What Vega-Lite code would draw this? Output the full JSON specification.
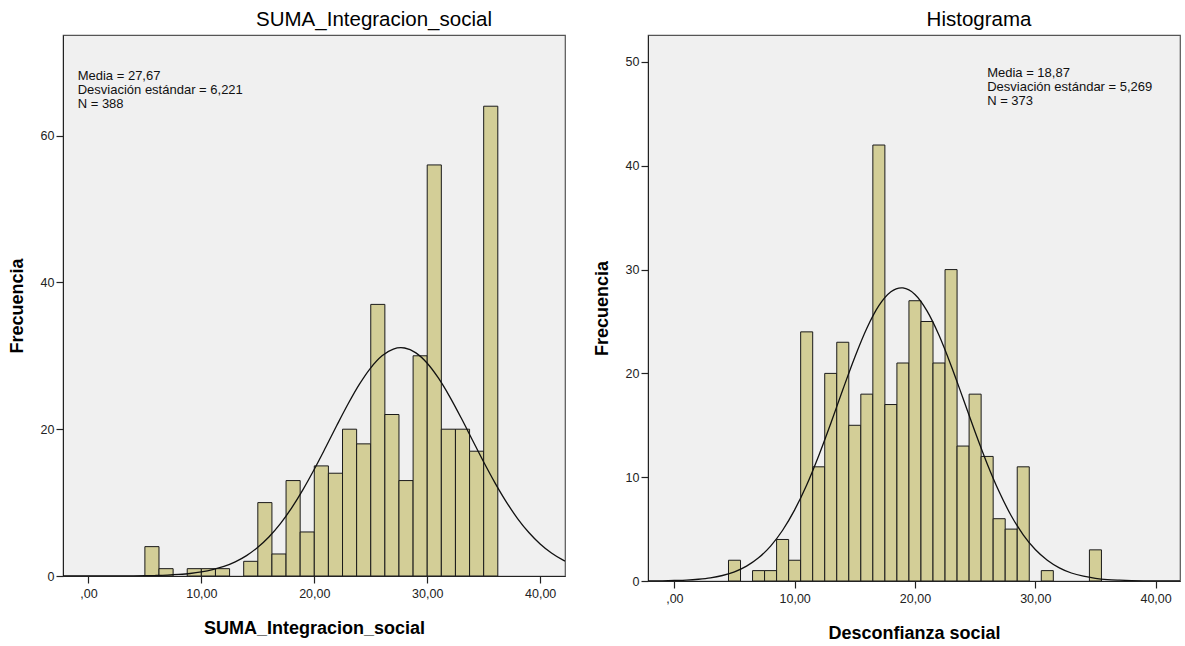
{
  "$schema": "https://vega.github.io/schema/vega-lite/v6.json",
  "background": "white",
  "padding": {"left": 7, "top": 8, "right": 0, "bottom": 0},
  "spacing": 26,
  "config": {
    "view": {"fill": "#F0F0F0", "stroke": "#555555", "strokeWidth": 1.2},
    "font": "Liberation Sans",
    "axis": {
      "grid": false,
      "domain": true,
      "domainColor": "#222222",
      "domainWidth": 1,
      "tickColor": "#222222",
      "tickSize": 7,
      "tickWidth": 1.2,
      "labelColor": "#222222",
      "labelFont": "Liberation Sans",
      "labelFontSize": 12.5,
      "labelPadding": 2,
      "titleFont": "Liberation Sans",
      "titleFontWeight": "bold",
      "titleFontSize": 18,
      "titleColor": "#000000"
    },
    "axisX": {"titlePadding": 20, "labelPadding": 4},
    "axisY": {"titlePadding": 14},
    "title": {"fontSize": 20.5, "fontWeight": "normal", "font": "Liberation Sans", "color": "#000000", "offset": 5}
  },
  "datasets": {
    "leftBars": [
      {"start": 5.0, "end": 6.25, "count": 4},
      {"start": 6.25, "end": 7.5, "count": 1},
      {"start": 8.75, "end": 10.0, "count": 1},
      {"start": 10.0, "end": 11.25, "count": 1},
      {"start": 11.25, "end": 12.5, "count": 1},
      {"start": 13.75, "end": 15.0, "count": 2},
      {"start": 15.0, "end": 16.25, "count": 10},
      {"start": 16.25, "end": 17.5, "count": 3},
      {"start": 17.5, "end": 18.75, "count": 13},
      {"start": 18.75, "end": 20.0, "count": 6},
      {"start": 20.0, "end": 21.25, "count": 15},
      {"start": 21.25, "end": 22.5, "count": 14},
      {"start": 22.5, "end": 23.75, "count": 20},
      {"start": 23.75, "end": 25.0, "count": 18},
      {"start": 25.0, "end": 26.25, "count": 37},
      {"start": 26.25, "end": 27.5, "count": 22},
      {"start": 27.5, "end": 28.75, "count": 13},
      {"start": 28.75, "end": 30.0, "count": 30},
      {"start": 30.0, "end": 31.25, "count": 56},
      {"start": 31.25, "end": 32.5, "count": 20},
      {"start": 32.5, "end": 33.75, "count": 20},
      {"start": 33.75, "end": 35.0, "count": 17},
      {"start": 35.0, "end": 36.25, "count": 64}
    ],
    "leftCurve": [
      {"x": -2.25, "y": 0}, {"x": -1, "y": 0}, {"x": 0, "y": 0}, {"x": 1, "y": 0.002},
      {"x": 2, "y": 0.006}, {"x": 3, "y": 0.012}, {"x": 4, "y": 0.022}, {"x": 5, "y": 0.04},
      {"x": 6, "y": 0.07}, {"x": 7, "y": 0.12}, {"x": 8, "y": 0.21}, {"x": 9, "y": 0.34},
      {"x": 10, "y": 0.55}, {"x": 11, "y": 0.86}, {"x": 12, "y": 1.30}, {"x": 13, "y": 1.93},
      {"x": 14, "y": 2.78}, {"x": 15, "y": 3.91}, {"x": 16, "y": 5.35}, {"x": 17, "y": 7.14},
      {"x": 18, "y": 9.29}, {"x": 19, "y": 11.77}, {"x": 20, "y": 14.54}, {"x": 21, "y": 17.50},
      {"x": 22, "y": 20.53}, {"x": 23, "y": 23.46}, {"x": 24, "y": 26.13}, {"x": 25, "y": 28.36},
      {"x": 26, "y": 30.00}, {"x": 27, "y": 30.92}, {"x": 27.67, "y": 31.10}, {"x": 28, "y": 31.06},
      {"x": 29, "y": 30.40}, {"x": 30, "y": 28.99}, {"x": 31, "y": 26.95}, {"x": 32, "y": 24.41},
      {"x": 33, "y": 21.55}, {"x": 34, "y": 18.53}, {"x": 35, "y": 15.53}, {"x": 36, "y": 12.69},
      {"x": 37, "y": 10.10}, {"x": 38, "y": 7.83}, {"x": 39, "y": 5.92}, {"x": 40, "y": 4.36},
      {"x": 41, "y": 3.13}, {"x": 42, "y": 2.19}, {"x": 42.2, "y": 2.03}
    ],
    "leftNote": [
      {"x": -0.95, "y": 69.0, "label": ["Media = 27,67", "Desviación estándar = 6,221", "N = 388"]}
    ],
    "rightBars": [
      {"value": 5, "start": 4.5, "end": 5.5, "count": 2},
      {"value": 7, "start": 6.5, "end": 7.5, "count": 1},
      {"value": 8, "start": 7.5, "end": 8.5, "count": 1},
      {"value": 9, "start": 8.5, "end": 9.5, "count": 4},
      {"value": 10, "start": 9.5, "end": 10.5, "count": 2},
      {"value": 11, "start": 10.5, "end": 11.5, "count": 24},
      {"value": 12, "start": 11.5, "end": 12.5, "count": 11},
      {"value": 13, "start": 12.5, "end": 13.5, "count": 20},
      {"value": 14, "start": 13.5, "end": 14.5, "count": 23},
      {"value": 15, "start": 14.5, "end": 15.5, "count": 15},
      {"value": 16, "start": 15.5, "end": 16.5, "count": 18},
      {"value": 17, "start": 16.5, "end": 17.5, "count": 42},
      {"value": 18, "start": 17.5, "end": 18.5, "count": 17},
      {"value": 19, "start": 18.5, "end": 19.5, "count": 21},
      {"value": 20, "start": 19.5, "end": 20.5, "count": 27},
      {"value": 21, "start": 20.5, "end": 21.5, "count": 25},
      {"value": 22, "start": 21.5, "end": 22.5, "count": 21},
      {"value": 23, "start": 22.5, "end": 23.5, "count": 30},
      {"value": 24, "start": 23.5, "end": 24.5, "count": 13},
      {"value": 25, "start": 24.5, "end": 25.5, "count": 18},
      {"value": 26, "start": 25.5, "end": 26.5, "count": 12},
      {"value": 27, "start": 26.5, "end": 27.5, "count": 6},
      {"value": 28, "start": 27.5, "end": 28.5, "count": 5},
      {"value": 29, "start": 28.5, "end": 29.5, "count": 11},
      {"value": 31, "start": 30.5, "end": 31.5, "count": 1},
      {"value": 35, "start": 34.5, "end": 35.5, "count": 3}
    ],
    "rightCurve": [
      {"x": -2.19, "y": 0}, {"x": -1, "y": 0.02}, {"x": 0, "y": 0.05}, {"x": 1, "y": 0.09},
      {"x": 2, "y": 0.17}, {"x": 3, "y": 0.30}, {"x": 4, "y": 0.53}, {"x": 5, "y": 0.88},
      {"x": 6, "y": 1.43}, {"x": 7, "y": 2.23}, {"x": 8, "y": 3.36}, {"x": 9, "y": 4.89},
      {"x": 10, "y": 6.85}, {"x": 11, "y": 9.25}, {"x": 12, "y": 12.07}, {"x": 13, "y": 15.18},
      {"x": 14, "y": 18.42}, {"x": 15, "y": 21.56}, {"x": 16, "y": 24.35}, {"x": 17, "y": 26.52},
      {"x": 18, "y": 27.86}, {"x": 18.87, "y": 28.24}, {"x": 19, "y": 28.23}, {"x": 20, "y": 27.60},
      {"x": 21, "y": 26.02}, {"x": 22, "y": 23.67}, {"x": 23, "y": 20.77}, {"x": 24, "y": 17.58},
      {"x": 25, "y": 14.35}, {"x": 26, "y": 11.30}, {"x": 27, "y": 8.59}, {"x": 28, "y": 6.29},
      {"x": 29, "y": 4.45}, {"x": 30, "y": 3.03}, {"x": 31, "y": 2.00}, {"x": 32, "y": 1.27},
      {"x": 33, "y": 0.77}, {"x": 34, "y": 0.46}, {"x": 35, "y": 0.26}, {"x": 36, "y": 0.14},
      {"x": 37, "y": 0.08}, {"x": 38, "y": 0.04}, {"x": 39, "y": 0.02}, {"x": 40, "y": 0.01},
      {"x": 41, "y": 0.005}, {"x": 42.03, "y": 0}
    ],
    "rightNote": [
      {"x": 26.0, "y": 49.55, "label": ["Media = 18,87", "Desviación estándar = 5,269", "N = 373"]}
    ]
  },
  "hconcat": [
    {
      "width": 502,
      "height": 541,
      "title": {"text": "SUMA_Integracion_social", "dx": 60},
      "layer": [
        {
          "data": {"name": "leftBars"},
          "mark": {"type": "rect", "fill": "#D3CE97", "stroke": "#1A1A1A", "strokeWidth": 1, "clip": true},
          "encoding": {
            "x": {
              "field": "start", "type": "quantitative",
              "scale": {"domain": [-2.25, 42.2], "nice": false, "zero": false},
              "axis": {"values": [0, 10, 20, 30, 40], "title": "SUMA_Integracion_social",
                "labelExpr": "datum.value == 0 ? ',00' : replace(format(datum.value, '.2f'), '.', ',')"}
            },
            "x2": {"field": "end"},
            "y": {
              "field": "count", "type": "quantitative",
              "scale": {"domain": [0, 73.7], "nice": false},
              "axis": {"values": [0, 20, 40, 60], "title": "Frecuencia"}
            },
            "y2": {"datum": 0}
          }
        },
        {
          "data": {"name": "leftCurve"},
          "mark": {"type": "line", "color": "#111111", "strokeWidth": 1.3, "interpolate": "monotone", "clip": true},
          "encoding": {
            "x": {"field": "x", "type": "quantitative"},
            "y": {"field": "y", "type": "quantitative"}
          }
        },
        {
          "data": {"name": "leftNote"},
          "mark": {"type": "text", "align": "left", "baseline": "top", "fontSize": 13, "lineHeight": 14, "color": "#111111", "font": "Liberation Sans"},
          "encoding": {
            "x": {"field": "x", "type": "quantitative"},
            "y": {"field": "y", "type": "quantitative"},
            "text": {"field": "label"}
          }
        }
      ]
    },
    {
      "width": 532,
      "height": 546,
      "title": {"text": "Histograma", "dx": 65},
      "layer": [
        {
          "data": {"name": "rightBars"},
          "mark": {"type": "rect", "fill": "#D3CE97", "stroke": "#1A1A1A", "strokeWidth": 1, "clip": true},
          "encoding": {
            "x": {
              "field": "start", "type": "quantitative",
              "scale": {"domain": [-2.19, 42.03], "nice": false, "zero": false},
              "axis": {"values": [0, 10, 20, 30, 40], "title": "Desconfianza social",
                "labelExpr": "datum.value == 0 ? ',00' : replace(format(datum.value, '.2f'), '.', ',')"}
            },
            "x2": {"field": "end"},
            "y": {
              "field": "count", "type": "quantitative",
              "scale": {"domain": [0, 52.6], "nice": false},
              "axis": {"values": [0, 10, 20, 30, 40, 50], "title": "Frecuencia"}
            },
            "y2": {"datum": 0}
          }
        },
        {
          "data": {"name": "rightCurve"},
          "mark": {"type": "line", "color": "#111111", "strokeWidth": 1.3, "interpolate": "monotone", "clip": true},
          "encoding": {
            "x": {"field": "x", "type": "quantitative"},
            "y": {"field": "y", "type": "quantitative"}
          }
        },
        {
          "data": {"name": "rightNote"},
          "mark": {"type": "text", "align": "left", "baseline": "top", "fontSize": 13, "lineHeight": 14, "color": "#111111", "font": "Liberation Sans"},
          "encoding": {
            "x": {"field": "x", "type": "quantitative"},
            "y": {"field": "y", "type": "quantitative"},
            "text": {"field": "label"}
          }
        }
      ]
    }
  ]
}
